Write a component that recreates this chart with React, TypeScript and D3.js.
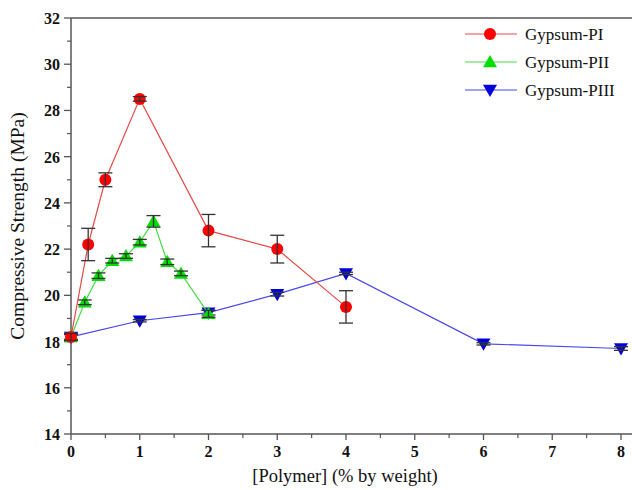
import React from 'react';
import * as d3 from 'd3';

// data
const piX = [0, 0.25, 0.5, 1, 2, 3, 4];
const piY = [18.2, 22.2, 25.0, 28.5, 22.8, 22.0, 19.5];
const piErr = [0.15, 0.7, 0.3, 0.1, 0.7, 0.6, 0.7];

const piiX = [0, 0.2, 0.4, 0.6, 0.8, 1.0, 1.2, 1.4, 1.6, 2.0];
const piiY = [18.2, 19.7, 20.85, 21.5, 21.7, 22.3, 23.2, 21.45, 20.95, 19.2];
const piiErr = [0.15, 0.1, 0.12, 0.1, 0.1, 0.12, 0.25, 0.12, 0.1, 0.15];

const piiiX = [0, 1, 2, 3, 4, 6, 8];
const piiiY = [18.2, 18.9, 19.25, 20.05, 20.95, 17.9, 17.7];
const piiiErr = [0.1, 0.05, 0.1, 0.08, 0.05, 0.05, 0.08];

const seriesNames = ['Gypsum-PI', 'Gypsum-PII', 'Gypsum-PIII'];
const xTicks = [0, 1, 2, 3, 4, 5, 6, 7, 8];
const yTicks = [14, 16, 18, 20, 22, 24, 26, 28, 30, 32];

const W = 632;
const H = 490;
const margin = { top: 18, left: 71, bottom: 56 };

const x = d3.scaleLinear().domain([0, 8]).range([margin.left, 621]);
const y = d3.scaleLinear().domain([14, 32]).range([H - margin.bottom, margin.top]);

const serif = '"Liberation Serif", serif';

function Marker({ kind, cx, cy, color }) {
    if (kind === 'circle') return <circle cx={cx} cy={cy} r={6} fill={color} />;
    const s = 7;
    if (kind === 'up') {
        return <path d={`M${cx},${cy - s} L${cx + s},${cy + s * 0.75} L${cx - s},${cy + s * 0.75} Z`} fill={color} />;
    }
    return <path d={`M${cx},${cy + s} L${cx + s},${cy - s * 0.75} L${cx - s},${cy - s * 0.75} Z`} fill={color} />;
}

function Series({ xs, ys, errs, line, color, kind }) {
    const gen = d3.line<number>().x((_, i) => x(xs[i])).y((v) => y(v));
    return (
        <g>
            <path d={gen(ys) || ''} fill="none" stroke={line} strokeWidth={1.2} />
            {ys.map((v, i) => {
                const cx = x(xs[i]);
                return (
                    <g key={i}>
                        <Marker kind={kind} cx={cx} cy={y(v)} color={color} />
                        <g stroke="#333" strokeWidth={1.3}>
                            <line x1={cx} x2={cx} y1={y(v - errs[i])} y2={y(v + errs[i])} />
                            <line x1={cx - 7} x2={cx + 7} y1={y(v - errs[i])} y2={y(v - errs[i])} />
                            <line x1={cx - 7} x2={cx + 7} y1={y(v + errs[i])} y2={y(v + errs[i])} />
                        </g>
                    </g>
                );
            })}
        </g>
    );
}

export default function App() {
    const x0 = margin.left;
    const yb = H - margin.bottom;
    const minorX = d3.range(0.5, 8.01, 1);
    const minorY = d3.range(15, 32, 2);
    const legend = [
        { name: seriesNames[0], color: '#ff0000', line: '#e84a4a', kind: 'circle' },
        { name: seriesNames[1], color: '#00dd00', line: '#44dd44', kind: 'up' },
        { name: seriesNames[2], color: '#0000dd', line: '#4848ee', kind: 'down' },
    ];
    return (
        <svg width={W} height={H} style={{ position: 'absolute', left: 0, top: 0, background: '#fff', fontFamily: serif }}>
            {/* frame */}
            <line x1={x0} x2={W} y1={margin.top} y2={margin.top} stroke="#555" strokeWidth={1.5} />
            <line x1={x0} x2={W} y1={yb} y2={yb} stroke="#555" strokeWidth={1.5} />
            <line x1={x0} x2={x0} y1={margin.top} y2={yb} stroke="#555" strokeWidth={1.5} />

            {xTicks.map((t) => (
                <g key={t}>
                    <line x1={x(t)} x2={x(t)} y1={yb} y2={yb + 6} stroke="#555" strokeWidth={1.3} />
                    <text x={x(t)} y={yb + 23} textAnchor="middle" fontSize={16} fontWeight="bold" fill="#111">{t}</text>
                </g>
            ))}
            {minorX.map((t) => (
                <line key={t} x1={x(t)} x2={x(t)} y1={yb} y2={yb + 4} stroke="#555" strokeWidth={1.2} />
            ))}
            {yTicks.map((t) => (
                <g key={t}>
                    <line x1={x0 - 7} x2={x0} y1={y(t)} y2={y(t)} stroke="#555" strokeWidth={1.3} />
                    <text x={x0 - 11} y={y(t) + 6} textAnchor="end" fontSize={16} fontWeight="bold" fill="#111">{t}</text>
                </g>
            ))}
            {minorY.map((t) => (
                <line key={t} x1={x0 - 4} x2={x0} y1={y(t)} y2={y(t)} stroke="#555" strokeWidth={1.2} />
            ))}

            <text x={345} y={482} textAnchor="middle" fontSize={18.5} fill="#111">[Polymer] (% by weight)</text>
            <text transform={`translate(24, ${(margin.top + yb) / 2}) rotate(-90)`} textAnchor="middle" fontSize={19.5} fill="#111">
                Compressive Strength (MPa)
            </text>

            <Series xs={piiiX} ys={piiiY} errs={piiiErr} line={legend[2].line} color={legend[2].color} kind="down" />
            <Series xs={piiX} ys={piiY} errs={piiErr} line={legend[1].line} color={legend[1].color} kind="up" />
            <Series xs={piX} ys={piY} errs={piErr} line={legend[0].line} color={legend[0].color} kind="circle" />

            {legend.map((d, i) => {
                const ly = 34 + i * 28;
                return (
                    <g key={d.name}>
                        <line x1={465} x2={517} y1={ly} y2={ly} stroke={d.line} strokeWidth={1.2} />
                        <Marker kind={d.kind} cx={490} cy={ly} color={d.color} />
                        <text x={525} y={ly + 6} fontSize={17} fill="#111">{d.name}</text>
                    </g>
                );
            })}
        </svg>
    );
}
